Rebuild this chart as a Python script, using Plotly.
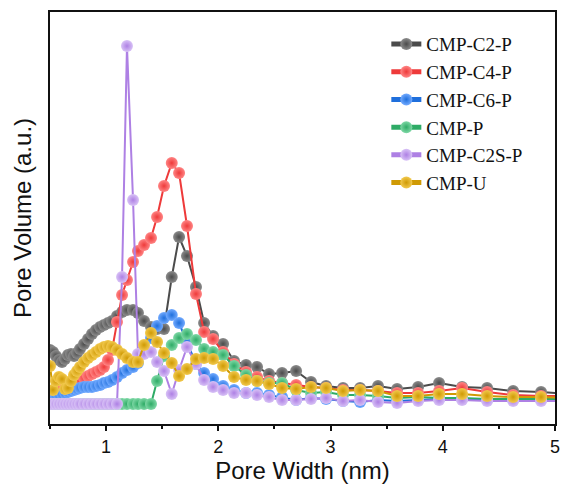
import plotly.graph_objects as go

pore_width = [0.500, 0.527, 0.553, 0.580, 0.607, 0.634, 0.660, 0.687, 0.714, 0.741,
              0.767, 0.803, 0.839, 0.874, 0.910, 0.946, 0.981, 1.017, 1.053, 1.097,
              1.142, 1.186, 1.240, 1.284, 1.338, 1.400, 1.454, 1.516, 1.585, 1.650,
              1.721, 1.801, 1.873, 1.953, 2.042, 2.140, 2.247, 2.345, 2.452, 2.568,
              2.693, 2.826, 2.960, 3.111, 3.263, 3.423, 3.593, 3.780, 3.967, 4.172,
              4.395, 4.627, 4.876, 5.130]

cmp_c2_p = [0.74, 0.72, 0.68, 0.64, 0.62, 0.65, 0.69, 0.70, 0.68, 0.71,
            0.75, 0.80, 0.85, 0.90, 0.94, 0.97, 0.99, 1.01, 1.03, 1.08,
            1.12, 1.14, 1.14, 1.11, 1.03, 0.97, 0.95, 0.95, 1.47, 1.87,
            1.68, 1.37, 1.01, 0.88, 0.80, 0.63, 0.59, 0.57, 0.50, 0.51,
            0.53, 0.42, 0.38, 0.36, 0.36, 0.38, 0.35, 0.37, 0.41, 0.37,
            0.36, 0.33, 0.32, 0.30]

cmp_c4_p = [0.32, 0.31, 0.31, 0.32, 0.35, 0.37, 0.37, 0.38, 0.40, 0.41,
            0.43, 0.46, 0.48, 0.50, 0.52, 0.54, 0.57, 0.64, 0.74, 1.02,
            1.29, 1.44, 1.62, 1.73, 1.79, 1.86, 2.07, 2.38, 2.61, 2.51,
            1.98, 1.30, 0.92, 0.85, 0.72, 0.60, 0.52, 0.47, 0.43, 0.41,
            0.39, 0.37, 0.36, 0.34, 0.34, 0.33, 0.31, 0.31, 0.33, 0.36,
            0.32, 0.29, 0.28, 0.28]

cmp_c6_p = [0.31, 0.30, 0.29, 0.29, 0.30, 0.31, 0.32, 0.33, 0.34, 0.35,
            0.36, 0.37, 0.37, 0.37, 0.38, 0.39, 0.41, 0.42, 0.44, 0.47,
            0.51, 0.54, 0.57, 0.61, 0.74, 0.86, 0.98, 1.06, 1.09, 1.01,
            0.82, 0.60, 0.51, 0.45, 0.38, 0.34, 0.31, 0.31, 0.29, 0.27,
            0.24, 0.26, 0.25, 0.23, 0.22, 0.24, 0.23, 0.24, 0.25, 0.25,
            0.24, 0.24, 0.24, 0.24]

cmp_p = [0.20, 0.20, 0.20, 0.20, 0.20, 0.20, 0.20, 0.20, 0.20, 0.20,
         0.20, 0.20, 0.20, 0.20, 0.20, 0.20, 0.20, 0.20, 0.20, 0.20,
         0.20, 0.20, 0.20, 0.20, 0.20, 0.20, 0.43, 0.68, 0.79, 0.86,
         0.90, 0.84, 0.75, 0.72, 0.69, 0.58, 0.49, 0.43, 0.41, 0.41,
         0.34, 0.31, 0.32, 0.29, 0.29, 0.28, 0.26, 0.27, 0.26, 0.26,
         0.25, 0.25, 0.25, 0.25]

cmp_c2s_p = [0.20, 0.20, 0.20, 0.20, 0.20, 0.20, 0.20, 0.20, 0.20, 0.20,
             0.20, 0.20, 0.20, 0.20, 0.20, 0.20, 0.20, 0.20, 0.20, 0.20,
             1.47, 3.78, 2.24, 0.70, 0.70, 0.72, 0.62, 0.53, 0.30, 0.54,
             0.77, 0.60, 0.44, 0.37, 0.34, 0.31, 0.31, 0.29, 0.27, 0.24,
             0.24, 0.25, 0.26, 0.23, 0.24, 0.22, 0.21, 0.23, 0.24, 0.24,
             0.23, 0.23, 0.23, 0.23]

cmp_u = [0.58, 0.34, 0.43, 0.47, 0.45, 0.35, 0.36, 0.43, 0.49, 0.53,
         0.57, 0.62, 0.66, 0.69, 0.72, 0.75, 0.77, 0.78, 0.77, 0.74,
         0.70, 0.66, 0.62, 0.62, 0.79, 0.91, 0.82, 0.71, 0.61, 0.48,
         0.55, 0.65, 0.66, 0.65, 0.58, 0.47, 0.44, 0.43, 0.40, 0.36,
         0.35, 0.37, 0.36, 0.33, 0.34, 0.33, 0.28, 0.28, 0.30, 0.30,
         0.28, 0.27, 0.27, 0.26]

series_names = ["CMP-C2-P", "CMP-C4-P", "CMP-C6-P", "CMP-P", "CMP-C2S-P", "CMP-U"]
series_values = [cmp_c2_p, cmp_c4_p, cmp_c6_p, cmp_p, cmp_c2s_p, cmp_u]
line_colors = ["#4b4b4b", "#ee3a3a", "#1f6fdc", "#2eab66", "#ae80e4", "#cf9a04"]
light_colors = ["#8c8c8c", "#ff8585", "#72aaff", "#7fd8a6", "#d8c2f6", "#f2c94e"]

x_ticks = [1, 2, 3, 4, 5]
x_tick_labels = ["1", "2", "3", "4", "5"]

fig = go.Figure()
for name, vals, lc, mc in zip(series_names, series_values, line_colors, light_colors):
    fig.add_trace(go.Scatter(
        x=pore_width, y=vals, name=name, mode="lines+markers",
        line=dict(color=lc, width=2),
        marker=dict(size=12, color=mc, gradient=dict(type="radial", color=lc),
                    line=dict(width=0)),
    ))

fig.update_layout(
    width=563, height=492,
    margin=dict(l=50, r=8, t=12, b=68),
    paper_bgcolor="white", plot_bgcolor="white",
    showlegend=True,
    legend=dict(x=0.666, y=0.968, xanchor="left", yanchor="top",
                font=dict(family="Liberation Serif", size=19, color="#111111"),
                bgcolor="rgba(0,0,0,0)", tracegroupgap=0, itemsizing="constant"),
    font=dict(family="Liberation Sans", color="#111111"),
)
fig.update_xaxes(
    range=[0.5, 5], tickmode="array", tickvals=x_ticks, ticktext=x_tick_labels,
    ticks="outside", ticklen=5, tickwidth=1.5, tickcolor="#111111",
    minor=dict(dtick=0.5, ticks="outside", ticklen=3, tickwidth=1.5, tickcolor="#111111"),
    showline=True, linecolor="#111111", linewidth=2, mirror=True,
    showgrid=False, zeroline=False, automargin=False,
    tickfont=dict(family="Liberation Sans", size=18),
    title=dict(text="Pore Width (nm)", font=dict(family="Liberation Sans", size=24), standoff=0),
)
fig.update_yaxes(
    range=[0, 4.12], showticklabels=False, ticks="",
    showline=True, linecolor="#111111", linewidth=2, mirror=True,
    showgrid=False, zeroline=False, automargin=False,
    title=dict(text="Pore Volume (a.u.)", font=dict(family="Liberation Sans", size=24), standoff=10),
)

fig.write_html("out.html", config={"displayModeBar": False},
               post_script="document.body.style.margin='0';")
